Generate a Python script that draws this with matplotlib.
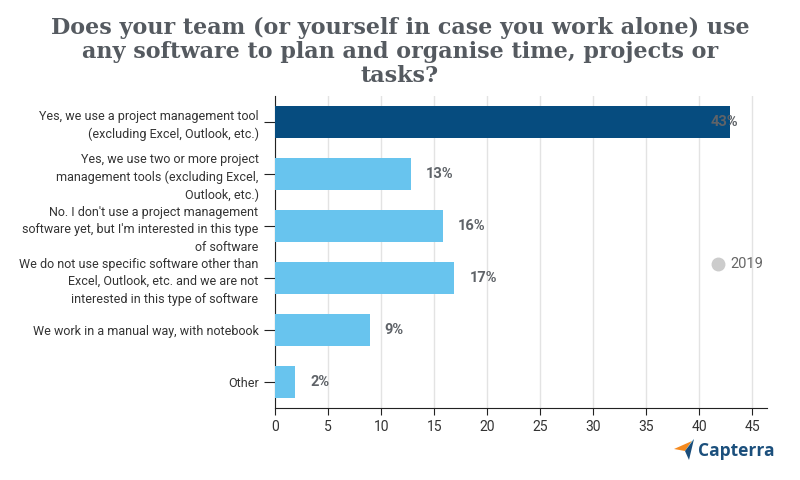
import matplotlib
matplotlib.use("Agg")
import matplotlib.pyplot as plt
from matplotlib.patches import Polygon
from matplotlib.lines import Line2D

# chart data
categories = [
    "Yes, we use a project management tool\n(excluding Excel, Outlook, etc.)",
    "Yes, we use two or more project\nmanagement tools (excluding Excel,\nOutlook, etc.)",
    "No. I don't use a project management\nsoftware yet, but I'm interested in this type\nof software",
    "We do not use specific software other than\nExcel, Outlook, etc. and we are not\ninterested in this type of software",
    "We work in a manual way, with notebook",
    "Other",
]
values = [42.9, 12.8, 15.8, 16.9, 8.9, 1.9]
labels = ["43%", "13%", "16%", "17%", "9%", "2%"]
xticks = [0, 5, 10, 15, 20, 25, 30, 35, 40, 45]
series_name = "2019"
title = ("Does your team (or yourself in case you work alone) use\n"
         "any software to plan and organise time, projects or\ntasks?")

dark = "#064c7f"
light = "#68c4ee"
gray = "#5f6368"

plt.rcParams['font.family'] = ['Roboto', 'DejaVu Sans']

fig = plt.figure(figsize=(8, 4.8), dpi=100)
ax = fig.add_axes([0.344, 0.15, 0.615, 0.65])

colors = [dark] + [light] * (len(values) - 1)
ypos = list(range(len(categories)))
ax.barh(ypos, values, height=0.6, color=colors, zorder=3)

ax.set_xlim(0, 46.4)
ax.set_ylim(len(categories) - 0.5, -0.5)
ax.set_xticks(xticks)
ax.set_yticks(ypos)
ax.set_yticklabels(categories, fontsize=9, color="#333333", linespacing=1.45)
ax.tick_params(axis='x', labelsize=10, labelcolor="#333333", length=5, color="#222222")
ax.tick_params(axis='y', length=8, color="#222222", pad=4)

ax.grid(axis='x', color="#e3e3e3", linewidth=1, zorder=0)
for s in ["top", "right"]:
    ax.spines[s].set_visible(False)
ax.spines["left"].set_color("#222222")
ax.spines["bottom"].set_color("#222222")

for i, (v, lab) in enumerate(zip(values, labels)):
    if i == 0:
        ax.annotate(lab, (v, i), xytext=(6, 0), textcoords="offset points",
                    ha="right", va="center", fontsize=10.5, fontweight="bold",
                    color=gray, zorder=4)
    else:
        ax.annotate(lab, (v, i), xytext=(11, 0), textcoords="offset points",
                    ha="left", va="center", fontsize=10.5, fontweight="bold",
                    color=gray, zorder=4)

# legend
fig.add_artist(Line2D([718 / 800], [1 - 264 / 480], transform=fig.transFigure,
                      marker="o", markersize=9, color="#cccccc", linestyle="none"))
fig.text(730 / 800, 1 - 264 / 480, series_name, fontsize=10.5, color="#666666",
         va="center", ha="left")

fig.text(0.5, 1 - 52 / 480, title, ha="center", va="center", fontsize=16,
         fontweight="bold", color="#555a60", linespacing=1.12,
         family=['DejaVu Serif'])

# Capterra logo
fig.patches.append(Polygon([(674 / 800, 1 - 449 / 480), (692 / 800, 1 - 441 / 480),
                            (685 / 800, 1 - 451 / 480)], closed=True,
                           transform=fig.transFigure, facecolor="#f58a1f", edgecolor="none"))
fig.patches.append(Polygon([(685 / 800, 1 - 451 / 480), (694 / 800, 1 - 439 / 480),
                            (689 / 800, 1 - 460 / 480)], closed=True,
                           transform=fig.transFigure, facecolor="#1a4d7a", edgecolor="none"))
fig.patches.append(Polygon([(692 / 800, 1 - 441 / 480), (694 / 800, 1 - 439 / 480),
                            (685 / 800, 1 - 451 / 480)], closed=True,
                           transform=fig.transFigure, facecolor="#5bc2e7", edgecolor="none"))
fig.text(698 / 800, 1 - 451 / 480, "Capterra", fontsize=12.5, fontweight="bold",
         color="#1b4f7c", va="center", ha="left", family=['Open Sans', 'DejaVu Sans'])

fig.savefig("out.png", dpi=100)
